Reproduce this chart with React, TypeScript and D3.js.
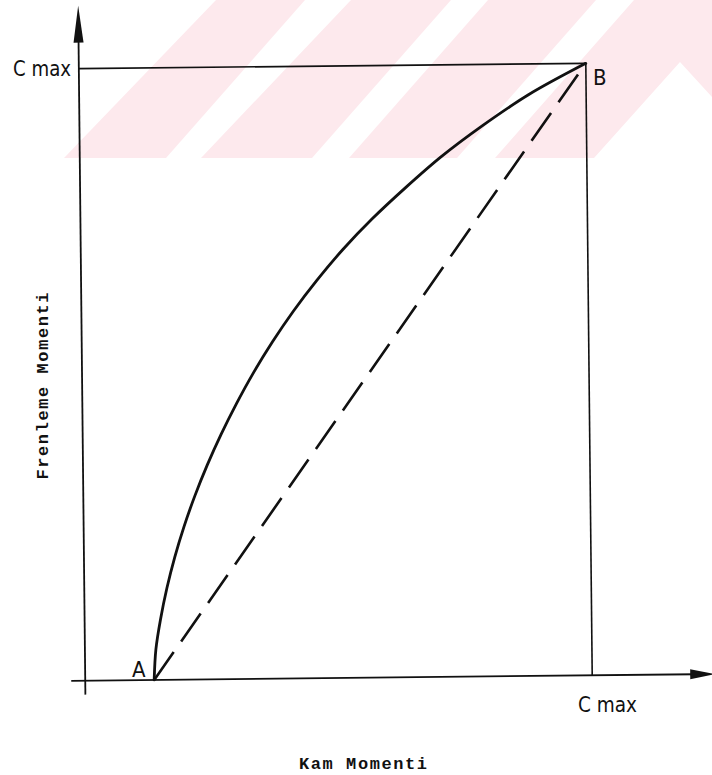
import React from "react";
import * as d3 from "d3";

// Curve A -> B (normalized: 0 = origin, 1 = C max), read at steps of y
const curveX = [0.136, 0.140, 0.150, 0.163, 0.179, 0.198, 0.220, 0.245, 0.273, 0.304, 0.338, 0.376, 0.418, 0.465, 0.517, 0.576, 0.642, 0.713, 0.795, 0.887, 1.0];
const curveY = [0, 0.05, 0.10, 0.15, 0.20, 0.25, 0.30, 0.35, 0.40, 0.45, 0.50, 0.55, 0.60, 0.65, 0.70, 0.75, 0.80, 0.85, 0.90, 0.95, 1.0];
// Straight (dashed) line A -> B
const lineX = [0.136, 1.0];
const lineY = [0, 1.0];
const pointLabels = ["A", "B"];
const xTickLabel = "C max";
const yTickLabel = "C max";
const xAxisTitle = "Kam Momenti";
const yAxisTitle = "Frenleme Momenti";

const W = 712;
const H = 775;
const INK = "#111";
const PINK = "#fde9ed";

export default function App() {
  const x = d3.scaleLinear().domain([0, 1]).range([82, 589]);
  const y = d3.scaleLinear().domain([0, 1]).range([678, 66]);

  const curvePts: [number, number][] = curveX.map((v, i) => [v, curveY[i]]);
  const linePts: [number, number][] = lineX.map((v, i) => [v, lineY[i]]);

  const curveGen = d3
    .line<[number, number]>()
    .x((d) => x(d[0]))
    .y((d) => y(d[1]))
    .curve(d3.curveCatmullRom.alpha(0.5));
  const straightGen = d3
    .line<[number, number]>()
    .x((d) => x(d[0]))
    .y((d) => y(d[1]));

  const x0 = x(0);
  const y0 = y(0);
  const x1 = x(1);
  const y1 = y(1);

  // watermark stripes (decorative)
  const stripes = [
    "64,158 216,0 305,0 166,158",
    "201,158 351,0 451,0 312,158",
    "349,158 488,0 596,0 457,158",
    "495,158 634,0 712,0 712,97 680,62 594,158",
  ];

  const sans = "'DejaVu Sans Condensed', 'DejaVu Sans', sans-serif";
  const mono = "'Liberation Mono', 'DejaVu Sans Mono', monospace";

  return (
    <svg
      width={W}
      height={H}
      viewBox={`0 0 ${W} ${H}`}
      style={{ position: "absolute", left: 0, top: 0, background: "#fff" }}
    >
      <rect x={0} y={0} width={W} height={H} fill="#fff" />
      <g>
        {stripes.map((p, i) => (
          <polygon key={i} points={p} fill={PINK} />
        ))}
      </g>
      <g transform="rotate(-0.6 335 370)">
        {/* Y axis */}
        <line x1={x0} y1={692} x2={x0} y2={30} stroke={INK} strokeWidth={1.8} />
        <polygon points={`${x0},3 ${x0 - 5},40 ${x0 + 5},40`} fill={INK} />
        {/* X axis */}
        <line x1={68} y1={y0} x2={692} y2={y0} stroke={INK} strokeWidth={1.8} />
        <polygon points={`712,${y0} 687,${y0 - 5} 687,${y0 + 5}`} fill={INK} />
        {/* C max box */}
        <line x1={x0} y1={y1} x2={x1} y2={y1} stroke={INK} strokeWidth={1.6} />
        <line x1={x1} y1={y1} x2={x1} y2={y0} stroke={INK} strokeWidth={1.6} />
        {/* dashed straight line */}
        <path
          d={straightGen(linePts) || ""}
          fill="none"
          stroke={INK}
          strokeWidth={2.6}
          strokeDasharray="34 13"
        />
        {/* curve */}
        <path
          d={curveGen(curvePts) || ""}
          fill="none"
          stroke={INK}
          strokeWidth={2.8}
          strokeLinecap="round"
        />
      </g>
      {/* labels */}
      <text
        x={71}
        y={76}
        fontFamily={sans}
        fontSize={22}
        textAnchor="end"
        fill={INK}
        textLength={58}
        lengthAdjust="spacingAndGlyphs"
      >
        {yTickLabel}
      </text>
      <text
        x={578}
        y={712}
        fontFamily={sans}
        fontSize={22}
        fill={INK}
        textLength={59}
        lengthAdjust="spacingAndGlyphs"
      >
        {xTickLabel}
      </text>
      <text x={132} y={677} fontFamily={sans} fontSize={22} fill={INK}>
        {pointLabels[0]}
      </text>
      <text x={593} y={85} fontFamily={sans} fontSize={22} fill={INK}>
        {pointLabels[1]}
      </text>
      <text
        transform="translate(48 386) rotate(-90)"
        fontFamily={mono}
        fontWeight="bold"
        fontSize={17}
        textAnchor="middle"
        fill={INK}
        textLength={187}
        lengthAdjust="spacing"
      >
        {yAxisTitle}
      </text>
      <text
        x={363}
        y={769}
        fontFamily={mono}
        fontWeight="bold"
        fontSize={17}
        textAnchor="middle"
        fill={INK}
        textLength={128}
        lengthAdjust="spacing"
      >
        {xAxisTitle}
      </text>
    </svg>
  );
}
